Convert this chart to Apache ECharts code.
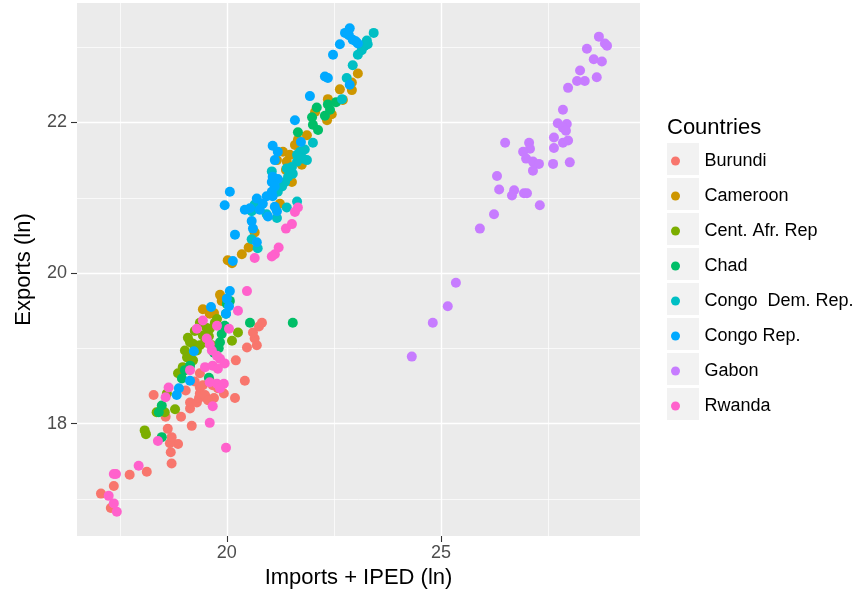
<!DOCTYPE html>
<html>
<head>
<meta charset="utf-8">
<script src="https://cdn.jsdelivr.net/npm/echarts@6/dist/echarts.min.js"></script>
<style>
  html, body { margin: 0; padding: 0; background: #fff; }
  #chart { width: 858px; height: 594px; }
</style>
</head>
<body>
<div id="chart"></div>
<script>
const countries = ['Burundi', 'Cameroon', 'Cent. Afr. Rep', 'Chad', 'Congo  Dem. Rep.', 'Congo Rep.', 'Gabon', 'Rwanda'];
const colors = ['#F8766D', '#CD9600', '#7CAE00', '#00BE67', '#00BFC4', '#00A9FF', '#C77CFF', '#FF61CC'];

// [imports + IPED (ln), exports (ln)]
const burundi = [
  [17.06, 17.07], [17.29, 16.88], [17.36, 17.17], [17.73, 17.32], [18.13, 17.36], [18.29, 18.38],
  [18.71, 17.47], [18.69, 17.62], [18.86, 17.73], [18.67, 17.74], [18.71, 17.82], [18.62, 17.93],
  [19.18, 17.97], [18.57, 18.09], [18.93, 18.09], [19.14, 18.20], [19.14, 18.28], [19.30, 18.28],
  [19.35, 18.34], [19.37, 18.40], [19.37, 18.48], [19.53, 18.34], [19.70, 18.34], [19.93, 18.40],
  [20.19, 18.34], [20.42, 18.57], [19.49, 18.38], [19.56, 18.31], [19.44, 18.51], [19.67, 18.51],
  [19.37, 18.67], [20.21, 18.84], [20.47, 19.01], [20.70, 19.04], [20.65, 19.13], [20.61, 19.21],
  [20.75, 19.29], [20.82, 19.34], [19.60, 18.57], [19.25, 18.56], [19.04, 18.44], [19.79, 18.47]
];
const cameroon = [
  [19.84, 19.71], [19.44, 19.52], [19.60, 19.46], [19.70, 19.47], [20.02, 20.17], [20.12, 20.13],
  [20.35, 20.25], [20.51, 20.34], [20.65, 20.54], [21.24, 20.92], [21.52, 21.21], [21.31, 21.61],
  [21.47, 21.57], [21.40, 21.48], [21.75, 21.44], [21.17, 21.50], [21.59, 21.70], [21.87, 21.83],
  [22.06, 22.14], [22.34, 22.03], [22.45, 22.11], [22.36, 22.31], [22.71, 22.30], [22.64, 22.44],
  [22.92, 22.53], [22.92, 22.43], [23.06, 22.65], [21.38, 21.37], [21.66, 21.77], [19.88, 19.63]
];
const centAfrRep = [
  [18.08, 17.91], [18.11, 17.86], [18.36, 18.15], [18.55, 18.15], [18.79, 18.19], [18.60, 18.40],
  [18.95, 18.68], [18.86, 18.67], [18.97, 18.75], [19.09, 18.88], [19.21, 18.84], [19.30, 18.97],
  [19.09, 19.14], [19.21, 19.06], [19.37, 19.04], [19.49, 19.08], [19.37, 19.34], [19.53, 19.27],
  [19.72, 19.34], [19.77, 19.39], [19.60, 19.26], [20.26, 19.21], [20.12, 19.10], [19.14, 19.08],
  [19.07, 18.88], [19.58, 19.16], [19.25, 19.23], [19.44, 19.17], [19.02, 18.97], [19.65, 19.04]
];
const chad = [
  [21.54, 19.34], [20.54, 19.34], [20.00, 19.59], [19.98, 19.46], [19.95, 19.30], [19.88, 19.19],
  [19.84, 19.08], [19.81, 19.00], [19.58, 18.61], [19.14, 18.77], [19.02, 18.71], [18.95, 18.60],
  [18.48, 18.24], [18.41, 18.15], [18.48, 17.82], [21.66, 21.87], [21.99, 22.07], [22.10, 22.20],
  [22.36, 22.24], [22.55, 22.27], [22.29, 22.09], [22.01, 21.97], [22.13, 21.90], [22.41, 22.17],
  [20.07, 19.63], [19.70, 18.94]
];
const congoDemRep = [
  [23.43, 23.19], [23.27, 23.09], [23.29, 23.04], [23.22, 23.02], [23.15, 22.96], [23.06, 22.90],
  [22.94, 22.76], [22.80, 22.59], [22.69, 22.31], [22.01, 21.73], [21.71, 21.61], [21.78, 21.52],
  [21.64, 21.48], [21.52, 21.41], [21.47, 21.35], [21.43, 21.28], [21.36, 21.21], [21.54, 21.32],
  [21.40, 21.39], [21.64, 21.57], [21.87, 21.50], [21.05, 21.35], [21.07, 21.21], [21.64, 20.95],
  [21.40, 20.87], [21.17, 20.73], [20.93, 20.78], [20.65, 20.91], [20.58, 20.82], [20.58, 20.45],
  [20.72, 20.33], [21.29, 21.15], [21.82, 21.64], [21.19, 21.08]
];
const congoRep = [
  [22.87, 23.25], [22.85, 23.16], [22.94, 23.10], [23.01, 23.08], [23.06, 23.05], [22.64, 23.04],
  [22.48, 22.90], [22.29, 22.61], [22.36, 22.59], [22.87, 22.50], [21.94, 22.35], [21.59, 22.03],
  [21.73, 21.74], [21.07, 21.69], [21.19, 21.61], [21.07, 21.28], [21.19, 21.25], [21.05, 21.21],
  [21.12, 21.15], [21.05, 21.08], [21.07, 21.02], [20.07, 21.08], [19.95, 20.90], [20.70, 20.99],
  [20.84, 20.92], [20.54, 20.86], [20.42, 20.84], [20.77, 20.84], [21.12, 20.88], [21.17, 20.82],
  [20.96, 20.75], [20.58, 20.69], [20.61, 20.59], [20.19, 20.51], [20.70, 20.41], [20.14, 20.16],
  [21.12, 21.50], [20.93, 21.02], [20.07, 19.76], [20.00, 19.66], [20.05, 19.56], [19.98, 19.46],
  [19.63, 19.55], [19.23, 18.96], [19.14, 18.57], [18.88, 18.47], [18.83, 18.38], [22.76, 23.19]
];
const gabon = [
  [28.69, 23.14], [28.83, 23.05], [28.88, 23.02], [28.41, 22.98], [28.57, 22.84], [28.76, 22.81],
  [28.25, 22.69], [28.18, 22.55], [28.36, 22.55], [28.64, 22.60], [27.97, 22.46], [27.85, 22.17],
  [27.73, 21.99], [27.94, 21.98], [27.85, 21.93], [27.92, 21.89], [27.64, 21.80], [27.85, 21.73],
  [27.97, 21.76], [27.64, 21.66], [28.01, 21.47], [27.62, 21.45], [26.50, 21.73], [27.06, 21.73],
  [27.08, 21.65], [26.92, 21.61], [26.99, 21.52], [27.15, 21.48], [27.29, 21.45], [27.15, 21.36],
  [26.31, 21.29], [26.36, 21.11], [26.71, 21.10], [26.66, 21.03], [26.94, 21.06], [27.01, 21.06],
  [27.31, 20.90], [26.24, 20.78], [25.91, 20.59], [25.35, 19.87], [25.16, 19.56], [24.81, 19.34],
  [24.32, 18.89]
];
const rwanda = [
  [17.41, 17.33], [17.36, 17.33], [17.94, 17.44], [17.24, 17.04], [17.36, 16.94], [17.43, 16.83],
  [18.39, 17.77], [19.60, 18.01], [19.98, 17.68], [19.67, 18.23], [18.57, 18.35], [18.64, 18.48],
  [19.77, 18.53], [19.93, 18.53], [19.84, 18.47], [19.14, 18.71], [20.47, 19.76], [20.26, 19.50],
  [19.77, 19.30], [19.30, 19.26], [20.05, 19.26], [19.53, 19.13], [19.60, 19.05], [19.65, 18.97],
  [19.77, 18.90], [19.84, 18.86], [19.95, 18.80], [19.49, 18.75], [19.67, 18.77], [19.79, 18.73],
  [19.60, 18.55], [21.66, 20.87], [21.59, 20.81], [21.52, 20.65], [21.38, 20.59], [21.21, 20.34],
  [21.12, 20.25], [21.05, 20.22], [20.65, 20.20], [19.44, 19.37]
];
const seriesData = [burundi, cameroon, centAfrRep, chad, congoDemRep, congoRep, gabon, rwanda];

const xMajor = [20, 25];
const xMinor = [17.5, 22.5, 27.5];
const yMajor = [18, 20, 22];
const yMinor = [17, 19, 21, 23];

const font = '"Liberation Sans", Arial, Helvetica, sans-serif';

const chart = echarts.init(document.getElementById('chart'), null, { renderer: 'canvas' });

function axisBase(min, max) {
  return {
    type: 'value', min: min, max: max,
    axisLine: { show: false },
    splitArea: { show: false }
  };
}

const keyBoxes = countries.map((c, i) => ({
  type: 'rect',
  left: 667, top: 143 + i * 35,
  shape: { width: 32, height: 32 },
  style: { fill: '#F2F2F2' },
  z: 0
}));

chart.setOption({
  animation: false,
  textStyle: { fontFamily: font },
  grid: {
    left: 77, right: 218, top: 3, bottom: 56,
    show: true, backgroundColor: '#EBEBEB', borderWidth: 0
  },
  xAxis: [
    Object.assign(axisBase(16.5, 29.65), {
      name: 'Imports + IPED (ln)',
      nameLocation: 'middle', nameGap: 31,
      nameTextStyle: { fontSize: 22, color: '#000', fontFamily: font },
      axisTick: { show: true, length: 6, customValues: xMajor, lineStyle: { color: '#333', width: 1.1 } },
      axisLabel: { customValues: xMajor, margin: 8, fontSize: 18, color: '#4D4D4D', fontFamily: font },
      splitLine: { show: true, lineStyle: { color: '#FFFFFF', width: 1.4 } }
    }),
    Object.assign(axisBase(16.5, 29.65), {
      axisTick: { show: false, customValues: xMinor },
      axisLabel: { show: false, customValues: xMinor },
      splitLine: { show: true, lineStyle: { color: '#FFFFFF', width: 0.7 } }
    })
  ],
  yAxis: [
    Object.assign(axisBase(16.507, 23.587), {
      name: 'Exports (ln)',
      nameLocation: 'middle', nameGap: 42,
      nameTextStyle: { fontSize: 22, color: '#000', fontFamily: font },
      axisTick: { show: true, length: 6, customValues: yMajor, lineStyle: { color: '#333', width: 1.1 } },
      axisLabel: { customValues: yMajor, margin: 10, fontSize: 18, color: '#4D4D4D', fontFamily: font },
      splitLine: { show: true, lineStyle: { color: '#FFFFFF', width: 1.4 } }
    }),
    Object.assign(axisBase(16.507, 23.587), {
      axisTick: { show: false, customValues: yMinor },
      axisLabel: { show: false, customValues: yMinor },
      splitLine: { show: true, lineStyle: { color: '#FFFFFF', width: 0.7 } }
    })
  ],
  legend: {
    orient: 'vertical',
    left: 666, top: 138.5,
    itemWidth: 34, itemHeight: 9, itemGap: 0,
    icon: 'circle',
    selectedMode: false,
    data: countries,
    textStyle: { fontSize: 18, color: '#000', lineHeight: 35, padding: [0, 0, 0, 7], fontFamily: font }
  },
  graphic: [
    { type: 'text', left: 667, top: 117, style: { text: 'Countries', fontSize: 22, fill: '#000', font: '22px ' + font }, z: 0 }
  ].concat(keyBoxes),
  series: countries.map((name, i) => ({
    name: name,
    type: 'scatter',
    xAxisIndex: 0, yAxisIndex: 0,
    symbol: 'circle',
    symbolSize: 10,
    itemStyle: { color: colors[i], opacity: 1 },
    emphasis: { disabled: true },
    data: seriesData[i]
  }))
});
</script>
</body>
</html>
